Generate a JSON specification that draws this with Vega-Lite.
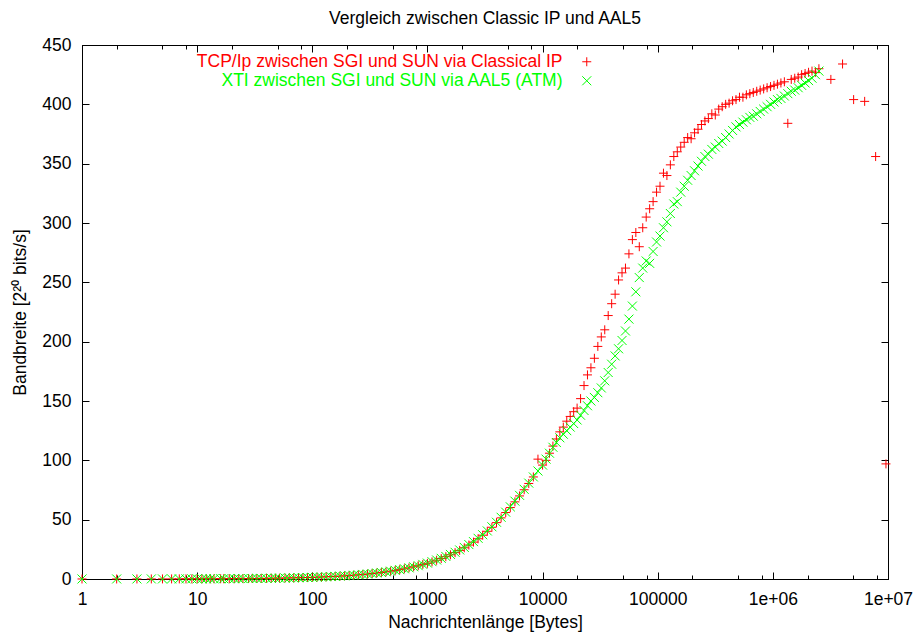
{
  "$schema": "https://vega.github.io/schema/vega-lite/v6.json",
  "width": 806,
  "height": 534,
  "autosize": "none",
  "padding": {"left": 82, "top": 45, "right": 27, "bottom": 56},
  "background": "white",
  "title": {"text": "Vergleich zwischen Classic IP und AAL5", "font": "Liberation Sans", "fontSize": 17.5, "fontWeight": "normal", "color": "#000", "offset": 9, "anchor": "middle"},
  "config": {
    "view": {"stroke": "#000", "strokeWidth": 1},
    "axis": {"grid": false, "domainColor": "#000", "tickColor": "#000", "labelColor": "#000", "titleColor": "#000", "labelFont": "Liberation Sans", "titleFont": "Liberation Sans", "labelFontSize": 17.5, "titleFontSize": 17.5, "titleFontWeight": "normal", "labelFlush": false, "labelOverlap": false}
  },
  "data": {"values": [
    {"n": 1, "tcp": 0.02, "xti": 0.02},
    {"n": 2, "tcp": 0.03, "xti": 0.03},
    {"n": 3, "tcp": 0.04, "xti": 0.04},
    {"n": 4, "tcp": 0.06, "xti": 0.06},
    {"n": 5, "tcp": 0.07, "xti": 0.07},
    {"n": 6, "tcp": 0.09, "xti": 0.09},
    {"n": 7, "tcp": 0.1, "xti": 0.1},
    {"n": 8, "tcp": 0.11, "xti": 0.11},
    {"n": 9, "tcp": 0.13, "xti": 0.13},
    {"n": 10, "tcp": 0.14, "xti": 0.14},
    {"n": 11, "tcp": 0.15, "xti": 0.15},
    {"n": 12, "tcp": 0.17, "xti": 0.17},
    {"n": 13, "tcp": 0.18, "xti": 0.18},
    {"n": 14, "tcp": 0.2, "xti": 0.2},
    {"n": 16, "tcp": 0.22, "xti": 0.22},
    {"n": 17, "tcp": 0.24, "xti": 0.24},
    {"n": 19, "tcp": 0.27, "xti": 0.27},
    {"n": 21, "tcp": 0.29, "xti": 0.29},
    {"n": 23, "tcp": 0.32, "xti": 0.32},
    {"n": 25, "tcp": 0.35, "xti": 0.35},
    {"n": 28, "tcp": 0.39, "xti": 0.39},
    {"n": 30, "tcp": 0.42, "xti": 0.42},
    {"n": 33, "tcp": 0.46, "xti": 0.46},
    {"n": 36, "tcp": 0.5, "xti": 0.5},
    {"n": 40, "tcp": 0.56, "xti": 0.56},
    {"n": 44, "tcp": 0.62, "xti": 0.62},
    {"n": 48, "tcp": 0.67, "xti": 0.67},
    {"n": 52, "tcp": 0.73, "xti": 0.73},
    {"n": 58, "tcp": 0.81, "xti": 0.81},
    {"n": 63, "tcp": 0.88, "xti": 0.88},
    {"n": 69, "tcp": 0.97, "xti": 0.97},
    {"n": 76, "tcp": 1.06, "xti": 1.06},
    {"n": 83, "tcp": 1.16, "xti": 1.16},
    {"n": 91, "tcp": 1.27, "xti": 1.27},
    {"n": 100, "tcp": 1.4, "xti": 1.4},
    {"n": 110, "tcp": 1.54, "xti": 1.54},
    {"n": 120, "tcp": 1.68, "xti": 1.68},
    {"n": 132, "tcp": 1.85, "xti": 1.85},
    {"n": 145, "tcp": 2.03, "xti": 2.03},
    {"n": 158, "tcp": 2.2, "xti": 2.2},
    {"n": 174, "tcp": 2.43, "xti": 2.43},
    {"n": 191, "tcp": 2.67, "xti": 2.67},
    {"n": 209, "tcp": 2.9, "xti": 2.9},
    {"n": 229, "tcp": 3.2, "xti": 3.2},
    {"n": 251, "tcp": 3.5, "xti": 3.5},
    {"n": 275, "tcp": 3.85, "xti": 3.85},
    {"n": 302, "tcp": 4.2, "xti": 4.2},
    {"n": 331, "tcp": 4.6, "xti": 4.6},
    {"n": 363, "tcp": 5.05, "xti": 5.05},
    {"n": 398, "tcp": 5.5, "xti": 5.5},
    {"n": 437, "tcp": 6.05, "xti": 6.05},
    {"n": 479, "tcp": 6.6, "xti": 6.6},
    {"n": 525, "tcp": 7.25, "xti": 7.25},
    {"n": 575, "tcp": 7.9, "xti": 7.9},
    {"n": 631, "tcp": 8.6, "xti": 8.6},
    {"n": 692, "tcp": 9.4, "xti": 9.4},
    {"n": 759, "tcp": 10.3, "xti": 10.3},
    {"n": 832, "tcp": 11.2, "xti": 11.2},
    {"n": 912, "tcp": 12.3, "xti": 12.3},
    {"n": 1000, "tcp": 13.2, "xti": 13.4},
    {"n": 1096, "tcp": 14.4, "xti": 14.6},
    {"n": 1202, "tcp": 15.8, "xti": 16},
    {"n": 1318, "tcp": 17.2, "xti": 17.4},
    {"n": 1445, "tcp": 18.8, "xti": 19},
    {"n": 1585, "tcp": 20.4, "xti": 20.7},
    {"n": 1738, "tcp": 22.2, "xti": 22.5},
    {"n": 1905, "tcp": 24.1, "xti": 24.5},
    {"n": 2089, "tcp": 26.3, "xti": 26.6},
    {"n": 2291, "tcp": 28.6, "xti": 29},
    {"n": 2512, "tcp": 31.1, "xti": 31.5},
    {"n": 2754, "tcp": 33.9, "xti": 34.3},
    {"n": 3020, "tcp": 36.9, "xti": 37.3},
    {"n": 3311, "tcp": 40.2, "xti": 40.5},
    {"n": 3631, "tcp": 43.6, "xti": 44},
    {"n": 3981, "tcp": 47.5, "xti": 47.8},
    {"n": 4365, "tcp": 51.5, "xti": 52},
    {"n": 4786, "tcp": 56, "xti": 56.3},
    {"n": 5248, "tcp": 60.2, "xti": 60.8},
    {"n": 5754, "tcp": 65, "xti": 65.6},
    {"n": 6310, "tcp": 70, "xti": 70.5},
    {"n": 6918, "tcp": 75.2, "xti": 75.6},
    {"n": 7586, "tcp": 80.5, "xti": 80.8},
    {"n": 8318, "tcp": 86, "xti": 86},
    {"n": 9120, "tcp": 101, "xti": 91},
    {"n": 10000, "tcp": 96, "xti": 96},
    {"n": 10720, "tcp": 100, "xti": 101},
    {"n": 11480, "tcp": 106, "xti": 106},
    {"n": 12300, "tcp": 112, "xti": 111},
    {"n": 13180, "tcp": 118, "xti": 115},
    {"n": 14130, "tcp": 124, "xti": 119},
    {"n": 15140, "tcp": 128, "xti": 122},
    {"n": 16220, "tcp": 133, "xti": 125},
    {"n": 17380, "tcp": 137, "xti": 128},
    {"n": 18620, "tcp": 141, "xti": 131},
    {"n": 19950, "tcp": 144, "xti": 134},
    {"n": 21380, "tcp": 152, "xti": 138},
    {"n": 22910, "tcp": 163, "xti": 142},
    {"n": 24550, "tcp": 172, "xti": 146},
    {"n": 26300, "tcp": 178, "xti": 150},
    {"n": 28180, "tcp": 186, "xti": 153},
    {"n": 30200, "tcp": 196, "xti": 157},
    {"n": 32360, "tcp": 204, "xti": 161},
    {"n": 34670, "tcp": 210, "xti": 167},
    {"n": 37150, "tcp": 222, "xti": 174},
    {"n": 39810, "tcp": 232, "xti": 181},
    {"n": 42660, "tcp": 240, "xti": 188},
    {"n": 45710, "tcp": 252, "xti": 194},
    {"n": 48980, "tcp": 258, "xti": 201},
    {"n": 52480, "tcp": 262, "xti": 209},
    {"n": 56230, "tcp": 274, "xti": 219},
    {"n": 60260, "tcp": 286, "xti": 230},
    {"n": 64570, "tcp": 292, "xti": 242},
    {"n": 69180, "tcp": 280, "xti": 254},
    {"n": 74130, "tcp": 296, "xti": 262},
    {"n": 79430, "tcp": 305, "xti": 268},
    {"n": 85110, "tcp": 312, "xti": 266},
    {"n": 91200, "tcp": 318, "xti": 276},
    {"n": 97720, "tcp": 326, "xti": 284},
    {"n": 104700, "tcp": 331, "xti": 289},
    {"n": 112200, "tcp": 342, "xti": 296},
    {"n": 120200, "tcp": 340, "xti": 301},
    {"n": 128800, "tcp": 349, "xti": 308},
    {"n": 138000, "tcp": 356, "xti": 316},
    {"n": 147900, "tcp": 360, "xti": 318},
    {"n": 158500, "tcp": 364, "xti": 326},
    {"n": 169800, "tcp": 368, "xti": 331},
    {"n": 182000, "tcp": 372, "xti": 336},
    {"n": 195000, "tcp": 371, "xti": 340},
    {"n": 208900, "tcp": 376, "xti": 344},
    {"n": 223900, "tcp": 379, "xti": 348},
    {"n": 239900, "tcp": 383, "xti": 352},
    {"n": 257000, "tcp": 386, "xti": 356},
    {"n": 275400, "tcp": 388, "xti": 358},
    {"n": 295100, "tcp": 392, "xti": 362},
    {"n": 316200, "tcp": 391, "xti": 364},
    {"n": 338800, "tcp": 396, "xti": 367},
    {"n": 363100, "tcp": 398, "xti": 369},
    {"n": 389000, "tcp": 400, "xti": 372},
    {"n": 416900, "tcp": 401, "xti": 375},
    {"n": 446700, "tcp": 403, "xti": 378},
    {"n": 478600, "tcp": 404, "xti": 381},
    {"n": 512900, "tcp": 406, "xti": 383},
    {"n": 549500, "tcp": 406, "xti": 385},
    {"n": 588800, "tcp": 408, "xti": 387},
    {"n": 631000, "tcp": 409, "xti": 389},
    {"n": 676100, "tcp": 410, "xti": 390},
    {"n": 724400, "tcp": 411, "xti": 392},
    {"n": 776200, "tcp": 412, "xti": 394},
    {"n": 831800, "tcp": 413, "xti": 396},
    {"n": 891300, "tcp": 414, "xti": 398},
    {"n": 955000, "tcp": 415, "xti": 400},
    {"n": 1023000, "tcp": 416, "xti": 402},
    {"n": 1096000, "tcp": 417, "xti": 404},
    {"n": 1175000, "tcp": 418, "xti": 405},
    {"n": 1259000, "tcp": 419, "xti": 407},
    {"n": 1349000, "tcp": 384, "xti": 409},
    {"n": 1445000, "tcp": 421, "xti": 411},
    {"n": 1549000, "tcp": 422, "xti": 412},
    {"n": 1660000, "tcp": 423, "xti": 414},
    {"n": 1778000, "tcp": 425, "xti": 416},
    {"n": 1905000, "tcp": 426, "xti": 418},
    {"n": 2042000, "tcp": 427, "xti": 420},
    {"n": 2188000, "tcp": 428, "xti": 422},
    {"n": 2344000, "tcp": 427, "xti": 425},
    {"n": 2512000, "tcp": 430, "xti": 428},
    {"n": 3190000, "tcp": 421, "xti": null},
    {"n": 4030000, "tcp": 434, "xti": null},
    {"n": 5030000, "tcp": 404, "xti": null},
    {"n": 6270000, "tcp": 402.5, "xti": null},
    {"n": 7810000, "tcp": 356, "xti": null},
    {"n": 9600000, "tcp": 97, "xti": null}
  ]},
  "transform": [
    {"fold": ["tcp", "xti"], "as": ["serie", "bw"]},
    {"filter": "isValid(datum.bw)"}
  ],
  "layer": [
    {
      "mark": {"type": "point", "filled": false, "strokeWidth": 1, "size": 81, "opacity": 1},
      "encoding": {
        "x": {"field": "n", "type": "quantitative",
          "scale": {"type": "log", "domain": [1, 10000000]},
          "axis": {"orient": "bottom",
            "values": [1, 2, 5, 8, 10, 20, 50, 80, 100, 200, 500, 800, 1000, 2000, 5000, 8000, 10000, 20000, 50000, 80000, 100000, 200000, 500000, 800000, 1000000, 2000000, 5000000, 8000000, 10000000],
            "labelExpr": "indexof([1,10,100,1000,10000,100000], datum.value) >= 0 ? format(datum.value, 'd') : (datum.value == 1000000 ? '1e+06' : (datum.value == 10000000 ? '1e+07' : ''))",
            "tickSize": {"condition": {"test": "indexof([1,10,100,1000,10000,100000,1000000,10000000], datum.value) >= 0", "value": -7}, "value": -4},
            "labelPadding": 18,
            "title": "Nachrichtenlänge [Bytes]",
            "titlePadding": 3}},
        "y": {"field": "bw", "type": "quantitative",
          "scale": {"domain": [0, 450], "nice": false, "zero": false},
          "axis": {"orient": "left", "values": [0, 50, 100, 150, 200, 250, 300, 350, 400, 450],
            "tickSize": -7, "labelPadding": 18,
            "title": "Bandbreite [2²⁰ bits/s]", "titlePadding": 12}},
        "color": {"field": "serie", "type": "nominal",
          "scale": {"domain": ["tcp", "xti"], "range": ["#ff0000", "#00ff00"]},
          "legend": {"orient": "none", "legendX": 496, "legendY": 8, "title": null, "padding": 0,
            "labelFont": "Liberation Sans", "labelFontSize": 17.5, "labelLimit": 0,
            "labelAlign": "right", "labelOffset": -33,
            "labelColor": {"expr": "datum.value == 'tcp' ? '#ff0000' : '#00ff00'"},
            "symbolSize": 81, "symbolStrokeWidth": 1, "rowPadding": 0,
            "labelExpr": "datum.label == 'tcp' ? 'TCP/Ip zwischen SGI und SUN via Classical IP' : 'XTI zwischen SGI und SUN via AAL5 (ATM)'"}},
        "shape": {"field": "serie", "type": "nominal",
          "scale": {"domain": ["tcp", "xti"], "range": ["M-1,0L1,0M0,-1L0,1", "M-1,-1L1,1M-1,1L1,-1"]},
          "legend": {"orient": "none", "legendX": 496, "legendY": 8, "title": null, "padding": 0,
            "labelFont": "Liberation Sans", "labelFontSize": 17.5, "labelLimit": 0,
            "labelAlign": "right", "labelOffset": -33,
            "labelColor": {"expr": "datum.value == 'tcp' ? '#ff0000' : '#00ff00'"},
            "symbolSize": 81, "symbolStrokeWidth": 1, "rowPadding": 0,
            "labelExpr": "datum.label == 'tcp' ? 'TCP/Ip zwischen SGI und SUN via Classical IP' : 'XTI zwischen SGI und SUN via AAL5 (ATM)'"}},
        "order": {"field": "serie"}
      }
    },
    {
      "mark": {"type": "point", "opacity": 0},
      "encoding": {
        "x": {"field": "n", "type": "quantitative",
          "scale": {"type": "log", "domain": [1, 10000000]},
          "axis": {"orient": "top", "labels": false, "title": null,
            "values": [1, 2, 5, 8, 10, 20, 50, 80, 100, 200, 500, 800, 1000, 2000, 5000, 8000, 10000, 20000, 50000, 80000, 100000, 200000, 500000, 800000, 1000000, 2000000, 5000000, 8000000, 10000000],
            "tickSize": {"condition": {"test": "indexof([1,10,100,1000,10000,100000,1000000,10000000], datum.value) >= 0", "value": -7}, "value": -4}}},
        "y": {"field": "bw", "type": "quantitative",
          "scale": {"domain": [0, 450], "nice": false, "zero": false},
          "axis": {"orient": "right", "labels": false, "title": null, "values": [0, 50, 100, 150, 200, 250, 300, 350, 400, 450], "tickSize": -7}}
      }
    }
  ],
  "resolve": {"axis": {"x": "independent", "y": "independent"}}
}
